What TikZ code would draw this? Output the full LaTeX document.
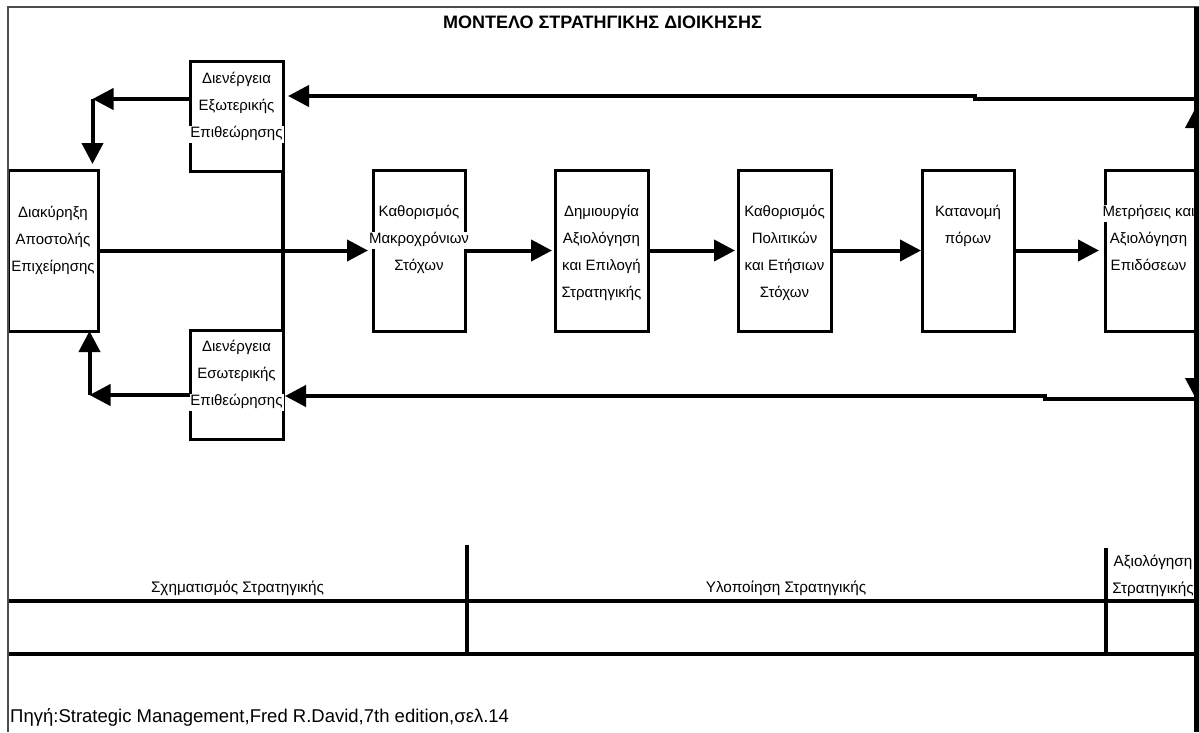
\documentclass[tikz,border=0pt]{standalone}
\usepackage{fontspec}
\setmainfont{Liberation Sans}
\usetikzlibrary{arrows.meta,calc}

% text lines of a box, one white line node per line, 27pt apart
\newcommand\boxtext[4][0]{%
  \foreach \lbltext [count=\i] in {#4} {%
    \pgfmathsetmacro\dy{-(#3)-27*(\i-1)}%
    \node[lbl] (#2l\i) at ([xshift=#1pt,yshift=\dy pt]#2.north) {\lbltext};
  }%
}

\begin{document}
\begin{tikzpicture}[x=1pt,y=-1pt,
  box/.style={draw,line width=3pt,inner sep=0pt,outer sep=0pt},
  lbl/.style={fill=white,inner xsep=1pt,inner ysep=1pt,text height=11pt,text depth=4pt,
    font=\fontsize{15}{18}\selectfont},
  plain/.style={inner sep=0pt,font=\fontsize{15.3}{18}\selectfont},
  arr/.style={line width=4pt,-{Triangle[length=21pt,width=21pt]}},
  conn/.style={line width=4pt},
  rule/.style={line width=4pt},
  frame/.style={line width=2pt,draw=black!70}]

\useasboundingbox (0,0) rectangle (1199,732);
\clip (0,0) rectangle (1199,732);
\fill[white] (0,0) rectangle (1199,732);

% title
\node[font=\bfseries\fontsize{18}{20}\selectfont,inner sep=0pt] (title) at (602.5,22)
  {ΜΟΝΤΕΛΟ ΣΤΡΑΤΗΓΙΚΗΣ ΔΙΟΙΚΗΣΗΣ};

% boxes
\node[box,minimum width=90pt,minimum height=161pt] (dia) at (53,250.5) {};
\node[box,minimum width=93pt,minimum height=110pt] (ext) at (236.5,116) {};
\node[box,minimum width=93pt,minimum height=109pt] (int) at (236.5,384.5) {};
\node[box,minimum width=92pt,minimum height=161pt] (k1) at (419,250.5) {};
\node[box,minimum width=93pt,minimum height=161pt] (k2) at (601.5,250.5) {};
\node[box,minimum width=93pt,minimum height=161pt] (k3) at (784.5,250.5) {};
\node[box,minimum width=92pt,minimum height=161pt] (k4) at (968,250.5) {};
\node[box,minimum width=91pt,minimum height=161pt] (k5) at (1150.5,250.5) {};

% link between the two reviews
\draw[conn] (ext.south east) -- (int.north east);

% box texts
\boxtext{dia}{44}{Διακύρηξη,Αποστολής,Επιχείρησης}
\boxtext{ext}{19}{Διενέργεια,Εξωτερικής,Επιθεώρησης}
\boxtext{int}{18}{Διενέργεια,Εσωτερικής,Επιθεώρησης}
\boxtext{k1}{43}{Καθορισμός,Μακροχρόνιων,Στόχων}
\boxtext{k2}{43}{Δημιουργία,Αξιολόγηση,και Επιλογή,Στρατηγικής}
\boxtext{k3}{43}{Καθορισμός,Πολιτικών,και Ετήσιων,Στόχων}
\boxtext{k4}{43}{Κατανομή,πόρων}
\boxtext[-2]{k5}{43}{Μετρήσεις και,Αξιολόγηση,Επιδόσεων}

% main flow
\draw[arr,shorten >=5pt] (dia.east) -- (k1.west);
\draw[arr,shorten >=3pt] (k1.east) -- (k2.west);
\draw[arr,shorten >=3pt] (k2.east) -- (k3.west);
\draw[arr,shorten >=1pt] (k3.east) -- (k4.west);
\draw[arr,shorten >=6pt] (k4.east) -- (k5.west);

% upper feedback loop
\coordinate (tr) at (1196,99);
\coordinate (tk) at (975,99);
\coordinate (tk2) at (975,96);
\coordinate (tl) at (92.5,99);
\draw[arr,shorten >=8pt] (k5.north east) -- (tr);
\draw[arr,shorten >=5pt] (tr) -- (tk) -- (tk2) -- (ext.east |- tk2);
\draw[arr] (ext.west |- tl) -- (tl);
\draw[arr,shorten >=6pt] (tl) -- (tl |- dia.north);

% lower feedback loop
\coordinate (br) at (1196,399);
\coordinate (bk) at (1045,399);
\coordinate (bk2) at (1045,396);
\coordinate (bl) at (89.5,395);
\draw[arr] (k5.south east) -- (br);
\draw[arr,shorten >=2pt] (br) -- (bk) -- (bk2) -- (int.east |- bk2);
\draw[arr] (int.west |- bl) -- (bl);
\draw[arr] (bl) -- (bl |- dia.south);

% phases table
\draw[rule] (8,601) -- (1199,601);
\draw[rule] (8,654) -- (1199,654);
\draw[rule] (467,545) -- (467,656);
\draw[rule] (1106,548) -- (1106,656);
\node[plain] (ph1) at (237.5,588) {Σχηματισμός Στρατηγικής};
\node[plain] (ph2) at (786,588) {Υλοποίηση Στρατηγικής};
\node[plain] (ph3a) at (1153,562) {Αξιολόγηση};
\node[plain] (ph3b) at (1153,589) {Στρατηγικής};

% source
\node[anchor=base west,inner sep=0pt,font=\fontsize{18.5}{20}\selectfont] (src) at (10,722)
  {Πηγή:Strategic Management,Fred R.David,7th edition,σελ.14};

% frame
\draw[frame] (8,732) -- (8,7) -- (1199,7);
\draw[line width=5pt] (1196.5,7) -- (1196.5,732);
\end{tikzpicture}
\end{document}
